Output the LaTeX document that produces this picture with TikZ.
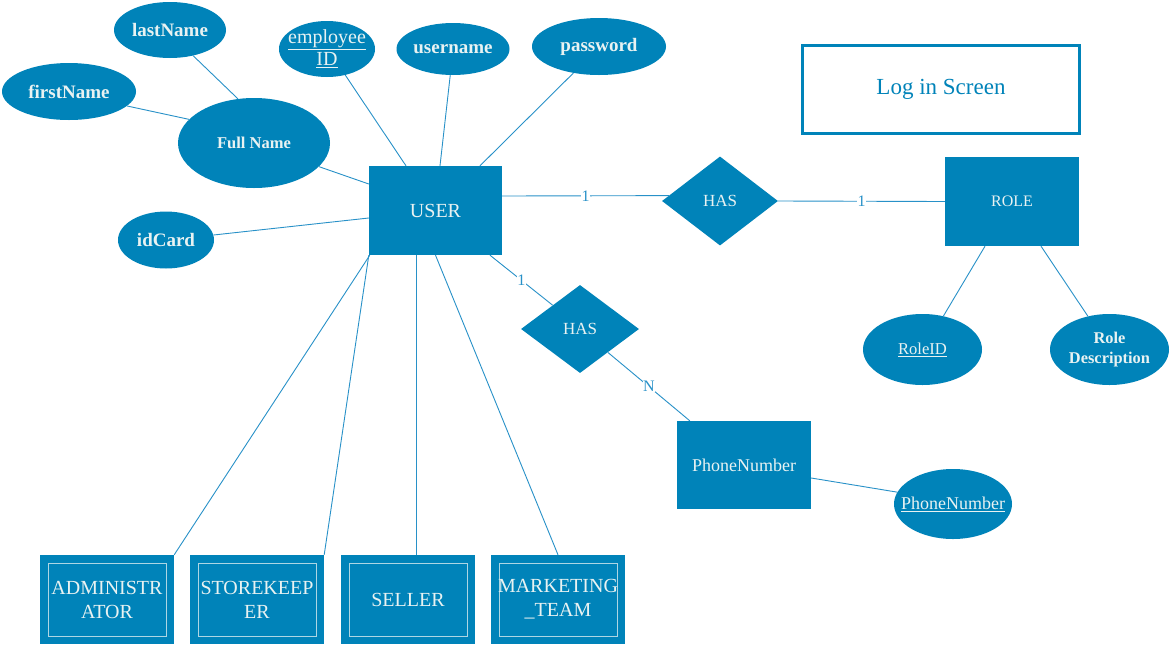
\documentclass[tikz,border=0pt]{standalone}
\usepackage{fontspec}
\setmainfont{Liberation Serif}
\usetikzlibrary{shapes.geometric,calc}
\definecolor{erblue}{RGB}{0,131,185}
\definecolor{erline}{RGB}{40,145,200}
\definecolor{ertext}{RGB}{232,242,242}
\begin{document}
\begin{tikzpicture}[x=1pt,y=-1pt,
  attr/.style={ellipse, fill=erblue, text=ertext, inner sep=-20pt, font=\bfseries\fontsize{19}{22}\selectfont},
  ent/.style={rectangle, fill=erblue, text=ertext, inner sep=0pt, minimum width=134pt, minimum height=89pt, align=center, font=\fontsize{20}{24}\selectfont},
  subent/.style={ent, path picture={\draw[draw=ertext!75!erblue, line width=0.8pt] ([xshift=8pt,yshift=8pt]path picture bounding box.south west) rectangle ([xshift=-8pt,yshift=-8pt]path picture bounding box.north east);}},
  rel/.style={diamond, fill=erblue, text=ertext, inner sep=0pt, font=\fontsize{17}{20}\selectfont},
  conn/.style={draw=erline, line width=0.9pt},
  card/.style={fill=white, text=erline, inner sep=0.5pt, font=\fontsize{16}{16}\selectfont}]
\useasboundingbox[fill=white] (0,0) rectangle (1171,646);

% attributes of USER
\node[attr, minimum width=112pt, minimum height=56pt] (last) at (170,30) {lastName};
\node[attr, minimum width=134pt, minimum height=57pt] (first) at (69,91.5) {firstName};
\node[attr, minimum width=152pt, minimum height=90pt, font=\bfseries\fontsize{16.5}{19}\selectfont] (full) at (254,143) {Full Name};
\node[attr, minimum width=96pt, minimum height=56pt, align=center, font=\fontsize{20}{22}\selectfont] (eid) at (327,49) {\underline{employee}\\\underline{ID}};
\node[attr, minimum width=113pt, minimum height=52pt] (uname) at (453,49) {username};
\node[attr, minimum width=134pt, minimum height=57pt] (pwd) at (599,46.5) {password};
\node[attr, minimum width=96pt, minimum height=57pt] (idc) at (166,240) {idCard};

% entities and relations
\node[ent, minimum width=133pt] (user) at (435.5,210.5) {USER};
\node[rel, minimum width=116pt, minimum height=89pt] (has1) at (720,201) {HAS};
\node[ent, font=\fontsize{16}{19}\selectfont] (role) at (1012,201.5) {ROLE};
\node[draw=erblue, line width=3pt, fill=white, minimum width=277pt, minimum height=88pt, text=erblue, font=\fontsize{23}{27}\selectfont] (login) at (941,89.5) {Log in Screen};
\node[attr, minimum width=119pt, minimum height=71pt, font=\fontsize{16.6}{19}\selectfont] (rid) at (922.5,349.5) {\underline{RoleID}};
\node[attr, minimum width=119pt, minimum height=71pt, align=center, font=\bfseries\fontsize{16.4}{20}\selectfont] (rdesc) at (1109.5,349.5) {Role\\Description};
\node[rel, minimum width=118pt, minimum height=88pt] (has2) at (580,329) {HAS};
\node[ent, minimum height=88pt, font=\fontsize{18}{21}\selectfont] (phone) at (744,465) {PhoneNumber};
\node[attr, minimum width=118pt, minimum height=70pt, font=\fontsize{18}{21}\selectfont] (pnum) at (953,504) {\underline{PhoneNumber}};

% sub entities
\node[subent] (admin) at (107,599.5) {ADMINISTR\\ATOR};
\node[subent] (store) at (257,599.5) {STOREKEEP\\ER};
\node[subent] (seller) at (408,599.5) {SELLER};
\node[subent] (mkt) at (558,599.5) {MARKETING\\\_TEAM};

% connectors
\draw[conn] (last.-48) -- (full.110.7);
\draw[conn] (first.-14.5) -- (full.160.3);
\draw[conn] (full.-20.7) -- ([yshift=26.5pt]user.west);
\draw[conn] (idc.6) -- ([yshift=-7.5pt]user.west);
\draw[conn] (eid.-55.8) -- ([xshift=-29.5pt]user.north);
\draw[conn] (uname.-96.6) -- ([xshift=4.5pt]user.north);
\draw[conn] (pwd.-134.5) -- ([xshift=44.5pt]user.north);
\draw[conn] ([yshift=14.5pt]user.east) -- node[card]{1} (has1.174.5);
\draw[conn] (has1.east) -- node[card]{1} (role.west);
\draw[conn] ([xshift=54.5pt]user.south) -- node[card]{1} (has2.139.4);
\draw[conn] (has2.-40.8) -- node[card]{N} ([xshift=13pt]phone.north west);
\draw[conn] ([yshift=-13pt]phone.east) -- (pnum.168.8);
\draw[conn] ([xshift=-27pt]role.south) -- (rid.58.4);
\draw[conn] ([xshift=29pt]role.south) -- (rdesc.123.3);
\draw[conn] ([xshift=1pt]user.south west) -- (admin.north east);
\draw[conn] (user.south west) -- (store.north east);
\path ([xshift=-19pt]user.south) coordinate (s0);
\draw[conn] (s0) -- (s0 |- seller.north);
\draw[conn] (user.south) -- (mkt.north);
\end{tikzpicture}
\end{document}
